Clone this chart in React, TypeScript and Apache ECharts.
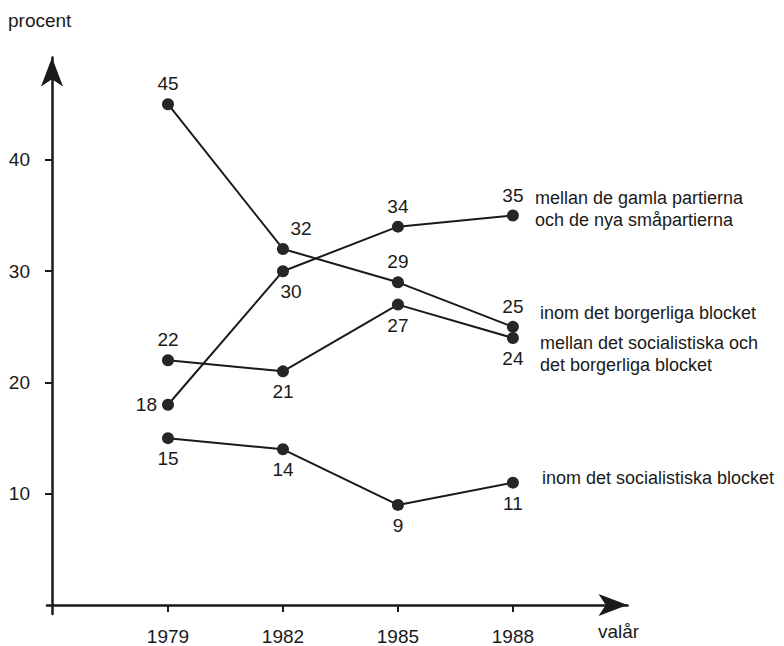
import React, { useEffect, useRef } from "react";
import * as echarts from "echarts";

const years = [1979, 1982, 1985, 1988];
const yTicks = [10, 20, 30, 40];
const nameGamlaNya = "mellan de gamla partierna\noch de nya småpartierna";
const nameInomBorgerliga = "inom det borgerliga blocket";
const nameMellanBlocken = "mellan det socialistiska och\ndet borgerliga blocket";
const nameInomSocialistiska = "inom det socialistiska blocket";
const gamlaNya = [18, 30, 34, 35];
const inomBorgerliga = [45, 32, 29, 25];
const mellanBlocken = [22, 21, 27, 24];
const inomSocialistiska = [15, 14, 9, 11];
const yAxisTitle = "procent";
const xAxisTitle = "valår";

const FONT = '"Liberation Sans Narrow", "Liberation Sans", Arial, sans-serif';
const INK = "#1a1a1a";
const NUM_SIZE = 19;
const NAME_SIZE = 18;

function makeSeries(name: string, values: number[], labelCfg: any[], nameOffset: number[]) {
  return {
    type: "line",
    name,
    data: values.map((v, i) => ({ value: [years[i], v], label: labelCfg[i] })),
    symbol: "circle",
    symbolSize: 12,
    itemStyle: { color: "#262626" },
    lineStyle: { color: INK, width: 2 },
    label: {
      show: true,
      fontFamily: FONT,
      fontSize: NUM_SIZE,
      color: INK,
      formatter: (p: any) => String(p.value[1]),
    },
    markPoint: {
      symbol: "circle",
      symbolSize: 0,
      silent: true,
      data: [{ coord: [years[years.length - 1], values[values.length - 1]] }],
      label: {
        show: true,
        position: "right",
        distance: 5,
        offset: nameOffset,
        formatter: name,
        fontFamily: FONT,
        fontSize: NAME_SIZE,
        lineHeight: 22,
        color: INK,
        align: "left",
      },
    },
  };
}

export default function App() {
  const ref = useRef<HTMLDivElement>(null);
  useEffect(() => {
    if (!ref.current) return;
    const chart = echarts.init(ref.current, null, { renderer: "svg" });
    const T = { position: "top" };
    const B = { position: "bottom" };
    chart.setOption({
      animation: false,
      backgroundColor: "#ffffff",
      grid: { left: 47, top: 57.5, width: 580.5, height: 557.5, containLabel: false },
      xAxis: {
        type: "value",
        min: 1975.843,
        max: 1990.99,
        axisLine: {
          show: true,
          onZero: true,
          lineStyle: { color: INK, width: 2.5 },
          symbol: ["none", "arrow"],
          symbolSize: [16.5, 29],
        },
        axisTick: { show: true, customValues: years, length: 7, lineStyle: { color: INK, width: 2 } },
        axisLabel: {
          customValues: years,
          margin: 13,
          fontFamily: FONT,
          fontSize: NUM_SIZE,
          color: INK,
          formatter: (v: number) => String(v),
        },
        splitLine: { show: false },
      },
      yAxis: {
        type: "value",
        min: -0.8,
        max: 49.2,
        offset: -5,
        axisLine: {
          show: true,
          lineStyle: { color: INK, width: 2.5 },
          symbol: ["none", "arrow"],
          symbolSize: [16.5, 29],
        },
        axisTick: { show: true, customValues: yTicks, length: 7, lineStyle: { color: INK, width: 2 } },
        axisLabel: {
          customValues: yTicks,
          margin: 22,
          fontFamily: FONT,
          fontSize: NUM_SIZE,
          color: INK,
        },
        splitLine: { show: false },
      },
      graphic: [
        {
          type: "text",
          left: 8,
          top: 11,
          style: { text: yAxisTitle, fontFamily: FONT, fontSize: NUM_SIZE, fill: INK },
        },
        {
          type: "text",
          left: 598,
          top: 622,
          style: { text: xAxisTitle, fontFamily: FONT, fontSize: NUM_SIZE, fill: INK },
        },
      ],
      series: [
        makeSeries(nameGamlaNya, gamlaNya, [{ position: "left" }, { position: "bottom", offset: [8, 0] }, T, T], [17, -7]),
        makeSeries(nameInomBorgerliga, inomBorgerliga, [T, { position: "top", offset: [18, 0] }, T, T], [22, -14]),
        makeSeries(nameMellanBlocken, mellanBlocken, [T, B, B, B], [22, 16]),
        makeSeries(nameInomSocialistiska, inomSocialistiska, [B, B, B, B], [24, -5]),
      ],
    });
    return () => chart.dispose();
  }, []);
  return (
    <div
      ref={ref}
      style={{ position: "fixed", left: 0, top: 0, width: 784, height: 646, background: "#fff" }}
    />
  );
}
